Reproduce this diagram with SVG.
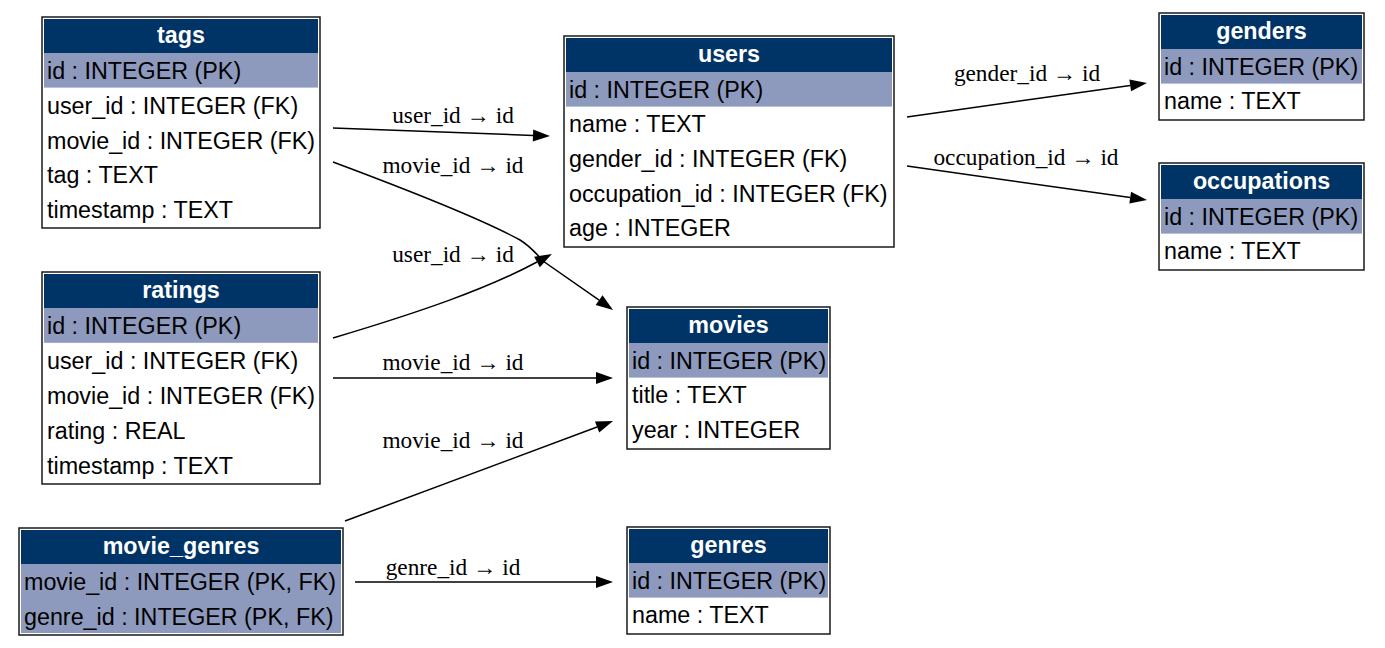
<svg xmlns="http://www.w3.org/2000/svg" width="1385" height="648" viewBox="0 0 1385 648">
<style>
.box{fill:#ffffff;stroke:#1a1a1a;stroke-width:1.5}
.hd{fill:#003366}
.pk{fill:#8e9abd}
.ht{font-family:"Liberation Sans",Arial,sans-serif;font-size:23.3px;font-weight:bold;fill:#ffffff;text-anchor:middle}
.ft{font-family:"Liberation Sans",Arial,sans-serif;font-size:23.3px;fill:#000000}
.el{font-family:"Liberation Serif","Times New Roman",serif;font-size:23.3px;fill:#000000;text-anchor:middle}
.edge{fill:none;stroke:#000000;stroke-width:1.5}
</style>
<defs>
<marker id="arr" markerUnits="userSpaceOnUse" markerWidth="17" markerHeight="12" refX="0" refY="6" orient="auto" overflow="visible">
<path d="M0,0 L17,6 L0,12 z" fill="#000000"/>
</marker>
</defs>
<rect width="1385" height="648" fill="#ffffff"/>

<g id="connectors">
<path class="edge" marker-end="url(#arr)" d="M333,128 L533,135.4"/>
<path class="edge" marker-end="url(#arr)" d="M333,162 C400,187 480,218 520,240 C530,246 536,253 543,261 L599.1,300.2"/>
<path class="edge" marker-end="url(#arr)" d="M333,338 C420,312 487,289 537,262"/>
<path class="edge" marker-end="url(#arr)" d="M333,378 L596,378"/>
<path class="edge" marker-end="url(#arr)" d="M345,521 L597.1,427"/>
<path class="edge" marker-end="url(#arr)" d="M355,582 L596,582"/>
<path class="edge" marker-end="url(#arr)" d="M907,117 L1130.2,85.4"/>
<path class="edge" marker-end="url(#arr)" d="M907,166 L1130.2,197.6"/>
<text class="el" x="453" y="123">user_id → id</text>
<text class="el" x="453" y="173">movie_id → id</text>
<text class="el" x="453" y="262">user_id → id</text>
<text class="el" x="453" y="370">movie_id → id</text>
<text class="el" x="453" y="448">movie_id → id</text>
<text class="el" x="453" y="575">genre_id → id</text>
<text class="el" x="1027" y="81">gender_id → id</text>
<text class="el" x="1026" y="165">occupation_id → id</text>
</g>

<g id="tags">
<rect class="box" x="42" y="17" width="278" height="211"/>
<rect class="hd" x="44" y="19" width="274" height="34"/>
<rect class="pk" x="44" y="53" width="274" height="34.6"/>
<text class="ht" x="181" y="42.5">tags</text>
<text class="ft" x="47" y="79.3">id : INTEGER (PK)</text>
<text class="ft" x="47" y="113.9">user_id : INTEGER (FK)</text>
<text class="ft" x="47" y="148.5">movie_id : INTEGER (FK)</text>
<text class="ft" x="47" y="183.1">tag : TEXT</text>
<text class="ft" x="47" y="217.7">timestamp : TEXT</text>
</g>

<g id="ratings">
<rect class="box" x="42" y="272" width="278" height="212"/>
<rect class="hd" x="44" y="274" width="274" height="34"/>
<rect class="pk" x="44" y="308" width="274" height="34.8"/>
<text class="ht" x="181" y="297.5">ratings</text>
<text class="ft" x="47" y="334.3">id : INTEGER (PK)</text>
<text class="ft" x="47" y="369.1">user_id : INTEGER (FK)</text>
<text class="ft" x="47" y="403.9">movie_id : INTEGER (FK)</text>
<text class="ft" x="47" y="438.7">rating : REAL</text>
<text class="ft" x="47" y="473.5">timestamp : TEXT</text>
</g>

<g id="movie_genres">
<rect class="box" x="19" y="528" width="324" height="107"/>
<rect class="hd" x="21" y="530" width="320" height="34"/>
<rect class="pk" x="21" y="564" width="320" height="69"/>
<text class="ht" x="181" y="553.5">movie_genres</text>
<text class="ft" x="24" y="590.3">movie_id : INTEGER (PK, FK)</text>
<text class="ft" x="24" y="624.9">genre_id : INTEGER (PK, FK)</text>
</g>

<g id="users">
<rect class="box" x="564" y="36" width="330" height="211"/>
<rect class="hd" x="566" y="38" width="326" height="34"/>
<rect class="pk" x="566" y="72" width="326" height="34.6"/>
<text class="ht" x="729" y="61.5">users</text>
<text class="ft" x="569" y="97.8">id : INTEGER (PK)</text>
<text class="ft" x="569" y="132.4">name : TEXT</text>
<text class="ft" x="569" y="167">gender_id : INTEGER (FK)</text>
<text class="ft" x="569" y="201.6">occupation_id : INTEGER (FK)</text>
<text class="ft" x="569" y="236.2">age : INTEGER</text>
</g>

<g id="movies">
<rect class="box" x="627" y="307" width="203" height="142"/>
<rect class="hd" x="629" y="309" width="199" height="34"/>
<rect class="pk" x="629" y="343" width="199" height="34.6"/>
<text class="ht" x="728.5" y="332.5">movies</text>
<text class="ft" x="632" y="368.8">id : INTEGER (PK)</text>
<text class="ft" x="632" y="403.4">title : TEXT</text>
<text class="ft" x="632" y="438">year : INTEGER</text>
</g>

<g id="genres">
<rect class="box" x="627" y="527" width="203" height="107"/>
<rect class="hd" x="629" y="529" width="199" height="34"/>
<rect class="pk" x="629" y="563" width="199" height="34.6"/>
<text class="ht" x="728.5" y="552.5">genres</text>
<text class="ft" x="632" y="588.8">id : INTEGER (PK)</text>
<text class="ft" x="632" y="623.4">name : TEXT</text>
</g>

<g id="genders">
<rect class="box" x="1159" y="13" width="205" height="107"/>
<rect class="hd" x="1161" y="15" width="201" height="34"/>
<rect class="pk" x="1161" y="49" width="201" height="34.6"/>
<text class="ht" x="1261.5" y="38.5">genders</text>
<text class="ft" x="1164" y="74.8">id : INTEGER (PK)</text>
<text class="ft" x="1164" y="109.4">name : TEXT</text>
</g>

<g id="occupations">
<rect class="box" x="1159" y="163" width="205" height="107"/>
<rect class="hd" x="1161" y="165" width="201" height="34"/>
<rect class="pk" x="1161" y="199" width="201" height="34.6"/>
<text class="ht" x="1261.5" y="188.5">occupations</text>
<text class="ft" x="1164" y="224.8">id : INTEGER (PK)</text>
<text class="ft" x="1164" y="259.4">name : TEXT</text>
</g>
</svg>
